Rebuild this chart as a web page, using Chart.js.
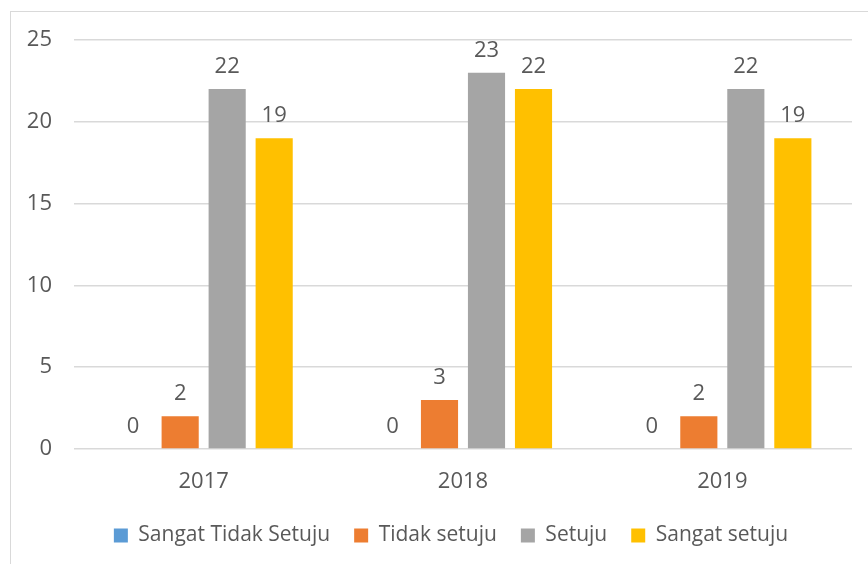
<!DOCTYPE html>
<html>
<head>
<meta charset="utf-8">
<script src="https://cdn.jsdelivr.net/npm/chart.js@4/dist/chart.umd.min.js"></script>
<style>
  html, body { margin: 0; padding: 0; background: #fff; }
  #wrap { width: 868px; height: 564px; position: relative; }
</style>
</head>
<body>
<div id="wrap"><canvas id="chart" width="868" height="564"></canvas></div>
<script>
// ---- data ----
const years = ['2017', '2018', '2019'];
const seriesNames = ['Sangat Tidak Setuju', 'Tidak setuju', 'Setuju', 'Sangat setuju'];
const sangatTidakSetuju = [0, 0, 0];
const tidakSetuju = [2, 3, 2];
const setuju = [22, 23, 22];
const sangatSetuju = [19, 22, 19];
const yTicks = [0, 5, 10, 15, 20, 25];

const COLORS = ['#5B9BD5', '#ED7D31', '#A5A5A5', '#FFC000'];
const TEXT = '#595959';
const GRID = '#d9d9d9';
const FONT = "'Open Sans', 'Noto Sans', sans-serif";

// frame around chart (cropped at right / bottom like the original)
const framePlugin = {
  id: 'frame',
  beforeDraw(chart) {
    const c = chart.ctx;
    c.save();
    c.strokeStyle = GRID;
    c.lineWidth = 1;
    c.strokeRect(10.5, 11.5, 900, 600);
    c.restore();
  }
};

// the original legend is centred on a wider (cropped) chart, so nudge it right
const legendShift = {
  id: 'legendShift',
  afterLayout(chart) {
    if (chart.legend) chart.legend.left = 50;
  }
};

// value labels above each bar
const valueLabels = {
  id: 'valueLabels',
  afterDatasetsDraw(chart) {
    const c = chart.ctx;
    c.save();
    c.fillStyle = TEXT;
    c.font = '22px ' + FONT;
    c.textAlign = 'center';
    c.textBaseline = 'alphabetic';
    chart.data.datasets.forEach((ds, i) => {
      chart.getDatasetMeta(i).data.forEach((bar, j) => {
        c.fillText(String(ds.data[j]), bar.x, bar.y - 16);
      });
    });
    c.restore();
  }
};

const allData = [sangatTidakSetuju, tidakSetuju, setuju, sangatSetuju];

new Chart(document.getElementById('chart'), {
  type: 'bar',
  data: {
    labels: years,
    datasets: seriesNames.map((name, i) => ({
      label: name,
      data: allData[i],
      backgroundColor: COLORS[i],
      borderWidth: 0,
      categoryPercentage: 0.725,
      barPercentage: 0.79
    }))
  },
  options: {
    responsive: false,
    animation: false,
    layout: { padding: { top: 40, right: 16, bottom: 8, left: 0 } },
    scales: {
      x: {
        grid: { display: false },
        border: { display: false },
        ticks: { color: TEXT, font: { family: FONT, size: 22 }, padding: 12 },
        afterFit(scale) { scale.height = 52; }
      },
      y: {
        min: 0,
        max: 25,
        afterBuildTicks(scale) { scale.ticks = yTicks.map(v => ({ value: v })); },
        grid: { color: GRID, lineWidth: 1.5, drawTicks: false },
        border: { display: false },
        ticks: { color: TEXT, font: { family: FONT, size: 22 }, padding: 22 },
        afterFit(scale) { scale.width = 74; }
      }
    },
    plugins: {
      legend: {
        position: 'bottom',
        labels: {
          color: TEXT,
          font: { family: FONT, size: 21 },
          boxWidth: 14,
          boxHeight: 14,
          padding: 24
        }
      },
      tooltip: { enabled: false }
    }
  },
  plugins: [framePlugin, legendShift, valueLabels]
});
</script>
</body>
</html>
